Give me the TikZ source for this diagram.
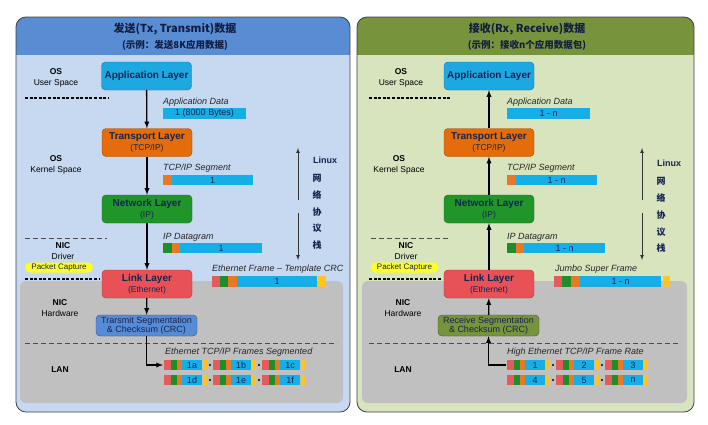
\documentclass[tikz,border=0pt]{standalone}
\usepackage{fontspec}
\setmainfont{Liberation Sans}
\newfontfamily\cjk{Noto Sans CJK SC}
\usetikzlibrary{positioning,arrows}
\definecolor{txhead}{RGB}{88,141,212}
\definecolor{txbody}{RGB}{198,217,241}
\definecolor{rxhead}{RGB}{119,147,60}
\definecolor{rxbody}{RGB}{215,228,189}
\definecolor{nicgray}{RGB}{192,192,192}
\definecolor{navy}{RGB}{22,36,80}
\definecolor{appcol}{RGB}{30,168,225}
\definecolor{tcpcol}{RGB}{228,108,10}
\definecolor{ipcol}{RGB}{32,150,42}
\definecolor{ethcol}{RGB}{232,82,86}
\definecolor{tsocol}{RGB}{86,140,214}
\definecolor{rsocol}{RGB}{119,147,60}
\definecolor{barcyan}{RGB}{22,174,230}
\definecolor{barorange}{RGB}{232,120,36}
\definecolor{bargreen}{RGB}{30,142,42}
\definecolor{barred}{RGB}{226,92,92}
\definecolor{baryellow}{RGB}{255,196,30}
\definecolor{capyellow}{RGB}{255,255,40}
\tikzset{>=latex}
\tikzset{
  stackbox/.style={draw=#1!70!black, fill=#1, rounded corners=4pt, minimum width=90pt,
    minimum height=28pt, align=center, text=navy, inner sep=1pt,
    font=\fontsize{8.5}{11}\selectfont},
  segbox/.style={draw=#1!60!black, fill=#1, rounded corners=4pt, minimum width=101pt,
    minimum height=21pt, align=center, text=navy, inner sep=1pt,
    font=\fontsize{9}{9.5}\selectfont},
  side/.style={align=center, text=black, font=\fontsize{8.5}{10.5}\selectfont, inner sep=0pt},
  captxt/.style={anchor=west, inner sep=0pt, text=black!85, font=\fontsize{9}{10}\itshape},
  bartext/.style={inner sep=0pt, text=navy, font=\fontsize{9}{9}\selectfont},
  headtxt/.style={text=navy!80!black, font=\cjk\bfseries\fontsize{11}{12}\selectfont},
  headsub/.style={text=navy!80!black, font=\cjk\bfseries\fontsize{9.5}{11}\selectfont},
  capbox/.style={fill=capyellow, rounded corners=5pt, minimum width=68pt, minimum height=10pt,
    inner sep=0pt, text=navy, font=\fontsize{8}{9}\selectfont},
  linuxtxt/.style={anchor=west, inner sep=0pt, text=navy, font=\bfseries\fontsize{9}{10}\selectfont},
  stacktxt/.style={anchor=west, inner sep=0pt, text=navy, font=\cjk\bfseries\fontsize{9}{10}\selectfont},
  flow/.style={->, line width=1.3pt, black},
  linux/.style={->, line width=0.7pt, black!80},
  septhick/.style={line width=1.4pt, dash pattern=on 3pt off 1.6pt, black},
  septhin/.style={line width=0.6pt, dash pattern=on 5pt off 3pt, black!70}
}
% one ethernet frame: x, y (top), label, name
\newcommand{\ethseg}[4]{%
  \fill[barred] (#1,#2) rectangle ++(7,10);
  \fill[bargreen] (#1+7,#2) rectangle ++(6,10);
  \fill[barorange] (#1+13,#2) rectangle ++(5,10);
  \fill[barcyan] (#1+18,#2) rectangle ++(20,10);
  \fill[baryellow] (#1+39,#2) rectangle ++(4,10);
  \node[bartext] (#4) at (#1+28,#2+5) {#3};
}
\begin{document}
\begin{tikzpicture}[x=1pt, y=-1pt]
  \useasboundingbox[fill=white] (0,0) rectangle (708,424);

  % panels
  \fill[txbody, rounded corners=10pt] (16,17) rectangle (350,412);
  \begin{scope}
    \clip[rounded corners=10pt] (16,17) rectangle (350,412);
    \fill[txhead] (16,17) rectangle (350,55);
  \end{scope}
  \draw[black!75, line width=0.8pt, rounded corners=10pt] (16,17) rectangle (350,412);
  \fill[rxbody, rounded corners=10pt] (357,17) rectangle (694,412);
  \begin{scope}
    \clip[rounded corners=10pt] (357,17) rectangle (694,412);
    \fill[rxhead] (357,17) rectangle (694,55);
  \end{scope}
  \draw[black!75, line width=0.8pt, rounded corners=10pt] (357,17) rectangle (694,412);
  \fill[nicgray, rounded corners=6pt] (20,281) rectangle (343,403);
  \fill[nicgray, rounded corners=6pt] (362,281) rectangle (687,403);

  \node[headtxt] (titleL) at (175,29) {发送(Tx, Transmit)数据};
  \node[headsub] (subL) at (175,45) {(示例：发送8K应用数据)};
  \node[headtxt] (titleR) at (527,29) {接收(Rx, Receive)数据};
  \node[headsub] (subR) at (527,45) {(示例：接收n个应用数据包)};

  % side labels
  \node[side] (userL) at (56,78) {\textbf{OS}\\User Space};
  \node[side] (kernL) at (56,165) {\textbf{OS}\\Kernel Space};
  \node[side] (drvL) at (63,251) {\textbf{NIC}\\Driver};
  \node[side] (hwL) at (60,308) {\textbf{NIC}\\Hardware};
  \node[side] (lanL) at (60,370) {\textbf{LAN}};
  \node[side] (userR) at (401,78) {\textbf{OS}\\User Space};
  \node[side] (kernR) at (399,165) {\textbf{OS}\\Kernel Space};
  \node[side] (drvR) at (406,251) {\textbf{NIC}\\Driver};
  \node[side] (hwR) at (403,308) {\textbf{NIC}\\Hardware};
  \node[side] (lanR) at (403,370) {\textbf{LAN}};
  \node[capbox] (capL) at (59,267.5) {Packet Capture};
  \node[capbox] (capR) at (404.5,267.5) {Packet Capture};

  \draw[septhick] (25,98) -- (108,98);
  \draw[septhin] (25,238) -- (107,238);
  \draw[septhick] (25,279) -- (100,279);
  \draw[septhin] (25,343) -- (337,343);
  \draw[septhick] (369,98) -- (451,98);
  \draw[septhin] (371,238) -- (449,238);
  \draw[septhick] (369,279) -- (442,279);
  \draw[septhin] (369,343) -- (679,343);

  % data units, transmit side
  \node[captxt] (adL) at (163,102) {Application Data};
  \fill[barcyan] (163,108) rectangle (246,119);
  \node[bartext] (adbL) at (204.5,113.5) {1 (8000 Bytes)};
  \node[captxt] (tsL) at (163,168) {TCP/IP Segment};
  \fill[barorange] (163,175) rectangle (172,185);
  \fill[barcyan] (172,175) rectangle (253,185);
  \node[bartext] (tsbL) at (212.5,180) {1};
  \node[captxt] (ipL) at (163,237) {IP Datagram};
  \fill[bargreen] (163,243) rectangle (172,253);
  \fill[barorange] (172,243) rectangle (180,253);
  \fill[barcyan] (180,243) rectangle (262,253);
  \node[bartext] (ipbL) at (221,248) {1};
  \node[captxt] (efL) at (212,269) {Ethernet Frame -- Template CRC};
  \fill[barred] (212,276) rectangle (220,287);
  \fill[bargreen] (220,276) rectangle (228,287);
  \fill[barorange] (228,276) rectangle (237,287);
  \fill[barcyan] (237,276) rectangle (317,287);
  \fill[baryellow] (318,276) rectangle (326,287);
  \node[bartext] (efbL) at (277,281.5) {1};
  \node[captxt] (fsL) at (165,352) {Ethernet TCP/IP Frames Segmented};
  \ethseg{164}{360}{1a}{f1a}
  \ethseg{213}{360}{1b}{f1b}
  \ethseg{262}{360}{1c}{f1c}
  \ethseg{164}{375}{1d}{f1d}
  \ethseg{213}{375}{1e}{f1e}
  \ethseg{262}{375}{1f}{f1f}
  \fill (210,365) circle (1.1) (259,365) circle (1.1) (210,380) circle (1.1) (259,380) circle (1.1);

  % data units, receive side
  \node[captxt] (adR) at (507,102) {Application Data};
  \fill[barcyan] (507,108) rectangle (590,119);
  \node[bartext] (adbR) at (548.5,113.5) {1 - n};
  \node[captxt] (tsR) at (507,168) {TCP/IP Segment};
  \fill[barorange] (507,175) rectangle (516,185);
  \fill[barcyan] (516,175) rectangle (597,185);
  \node[bartext] (tsbR) at (556.5,180) {1 - n};
  \node[captxt] (ipR) at (507,237) {IP Datagram};
  \fill[bargreen] (507,243) rectangle (516,253);
  \fill[barorange] (516,243) rectangle (524,253);
  \fill[barcyan] (524,243) rectangle (605,253);
  \node[bartext] (ipbR) at (564.5,248) {1 - n};
  \node[captxt] (jfR) at (555,269) {Jumbo Super Frame};
  \fill[barred] (554,276) rectangle (562,287);
  \fill[bargreen] (562,276) rectangle (571,287);
  \fill[barorange] (571,276) rectangle (580,287);
  \fill[barcyan] (580,276) rectangle (661,287);
  \fill[baryellow] (663,276) rectangle (670,287);
  \node[bartext] (jfbR) at (620.5,281.5) {1 - n};
  \node[captxt] (frR) at (507,352) {High Ethernet TCP/IP Frame Rate};
  \ethseg{507}{360}{1}{g1}
  \ethseg{556}{360}{2}{g2}
  \ethseg{605}{360}{3}{g3}
  \ethseg{507}{375}{4}{g4}
  \ethseg{556}{375}{5}{g5}
  \ethseg{605}{375}{n}{gn}
  \fill (553,365) circle (1.1) (602,365) circle (1.1) (553,380) circle (1.1) (602,380) circle (1.1);

  % stacks
  \node[stackbox=appcol] (appL) at (146.5,76) {\fontsize{10}{11}\bfseries Application Layer};
  \node[stackbox=tcpcol] (tranL) at (147,142.5) {\fontsize{10}{11}\bfseries Transport Layer\\(TCP/IP)};
  \node[stackbox=ipcol] (netL) at (147,209) {\fontsize{10}{11}\bfseries Network Layer\\(IP)};
  \node[stackbox=ethcol] (linkL) at (147,284) {\fontsize{10}{11}\bfseries Link Layer\\(Ethernet)};
  \node[segbox=tsocol] (tsoL) at (146.5,325.5) {Trarsmit Segmentation\\\& Checksum (CRC)};
  \node[stackbox=appcol] (appR) at (489,76) {\fontsize{10}{11}\bfseries Application Layer};
  \node[stackbox=tcpcol] (tranR) at (489,142.5) {\fontsize{10}{11}\bfseries Transport Layer\\(TCP/IP)};
  \node[stackbox=ipcol] (netR) at (489,209) {\fontsize{10}{11}\bfseries Network Layer\\(IP)};
  \node[stackbox=ethcol] (linkR) at (489,284) {\fontsize{10}{11}\bfseries Link Layer\\(Ethernet)};
  \node[segbox=rsocol] (rsoR) at (488.5,325.5) {Receive Segmentation\\\& Checksum (CRC)};

  \draw[flow] (appL) -- (tranL);
  \draw[flow] (tranL) -- (netL);
  \draw[flow] (netL) -- (linkL);
  \draw[flow] (linkL) -- (tsoL);
  \coordinate (segL) at (163,365);
  \draw[flow] (tsoL) |- (segL);
  \draw[flow] (tranR) -- (appR);
  \draw[flow] (netR) -- (tranR);
  \draw[flow] (linkR) -- (netR);
  \draw[flow] (rsoR) -- (linkR);
  \coordinate (segR) at (506,365);
  \draw[flow] (segR) -| (rsoR);

  % linux stack
  \coordinate (luL1) at (298,200);
  \coordinate (luL2) at (298,148);
  \coordinate (ldL1) at (298,213);
  \coordinate (ldL2) at (298,260);
  \draw[linux] (luL1) -- (luL2);
  \draw[linux] (ldL1) -- (ldL2);
  \node[linuxtxt] (linL) at (313,160) {Linux};
  \node[stacktxt] (wL) at (312.5,178) {网};
  \node[stacktxt] (lL) at (312.5,195) {络};
  \node[stacktxt] (xL) at (312.5,212) {协};
  \node[stacktxt] (yL) at (312.5,228) {议};
  \node[stacktxt] (zL) at (312.5,245) {栈};
  \coordinate (luR1) at (642,200);
  \coordinate (luR2) at (642,148);
  \coordinate (ldR1) at (642,213);
  \coordinate (ldR2) at (642,260);
  \draw[linux] (luR1) -- (luR2);
  \draw[linux] (ldR1) -- (ldR2);
  \node[linuxtxt] (linR) at (657,163) {Linux};
  \node[stacktxt] (wR) at (656.5,181) {网};
  \node[stacktxt] (lR) at (656.5,198) {络};
  \node[stacktxt] (xR) at (656.5,215) {协};
  \node[stacktxt] (yR) at (656.5,232) {议};
  \node[stacktxt] (zR) at (656.5,248) {栈};
\end{tikzpicture}
\end{document}
